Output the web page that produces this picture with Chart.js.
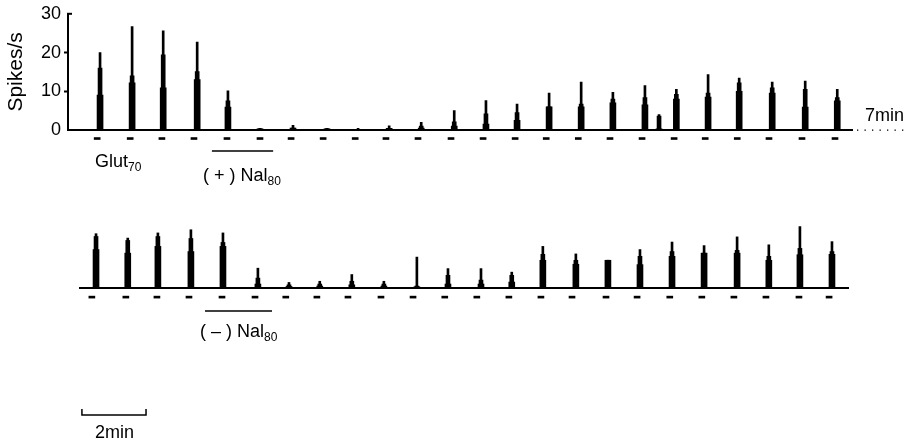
<!DOCTYPE html>
<html>
<head>
<meta charset="utf-8">
<script src="https://cdn.jsdelivr.net/npm/chart.js@4.4.0/dist/chart.umd.min.js"></script>
<style>
    body { margin: 0; background: #fff; }
    #fig { position: relative; width: 911px; height: 446px; font-family: "Liberation Sans", Arial, sans-serif; color: #000; }
    #fig canvas { position: absolute; left: 0; }
    .lbl { position: absolute; font-size: 18px; line-height: 18px; white-space: pre; }
    .lbl sub { font-size: 12px; vertical-align: baseline; position: relative; top: 4px; }
</style>
</head>
<body>
<div id="fig">
    <canvas id="topTrace" width="911" height="200" style="top:0"></canvas>
    <canvas id="bottomTrace" width="911" height="246" style="top:200px"></canvas>
    <div class="lbl" style="left:95px;top:152px">Glut<sub>70</sub></div>
    <div class="lbl" style="left:203px;top:166px">( + ) Nal<sub>80</sub></div>
    <div class="lbl" style="left:865px;top:106px">7min</div>
    <div class="lbl" style="left:200px;top:322px">( – ) Nal<sub>80</sub></div>
    <div class="lbl" style="left:95px;top:423px">2min</div>
</div>
<script>
'use strict';

const FONT = '"Liberation Sans", Arial, sans-serif';
const yTicks = [0, 10, 20, 30];

// upper record, (+) naloxone; times in min, rates in spikes/s
const topTimes = [0, 1.0, 1.97, 3.03, 3.99, 4.99, 6.02, 7.08, 8.05, 9.02, 10.02, 11.05, 12.04,
    13.01, 14.01, 15.01, 16.0, 17.0, 17.44, 17.98, 18.97, 19.94, 20.97, 22.0, 23.0];
const topBase = [9, 12.2, 10.9, 13.0, 5.9, 0.3, 0.5, 0.3, 0.2, 0.4, 0.5, 1.0, 1.5,
    2.5, 6.0, 6.0, 7.0, 6.5, 0.3, 8.0, 8.5, 10.0, 9.5, 5.9, 7.5];
const topUpper = [16, 14, 19.4, 15.1, 7.5, 0.3, 0.5, 0.3, 0.2, 0.4, 1.0, 2.1, 4.2,
    4.5, 6.0, 6.7, 8.0, 8.4, 3.6, 9.2, 9.5, 12.2, 10.9, 10.5, 8.4];
const topPeak = [20.0, 26.7, 25.6, 22.7, 10.1, 0.4, 1.2, 0.4, 0.4, 1.1, 2.0, 5.0, 7.6,
    6.7, 9.5, 12.4, 9.7, 11.5, 4.0, 10.5, 14.3, 13.4, 12.4, 12.6, 10.5];
const topGlutTimes = [-0.09, 0.94, 1.93, 2.93, 3.96, 4.99, 5.96, 6.96, 7.96, 8.92, 9.92, 10.95,
    11.95, 12.95, 13.92, 14.92, 15.91, 16.91, 17.91, 18.88, 19.88, 20.87, 21.9, 22.93];
const nalTop = [3.49, 5.40];

// lower record, (-) naloxone
const bottomTimes = [-0.12, 0.87, 1.81, 2.84, 3.84, 4.93, 5.90, 6.86, 7.86, 8.86, 9.89, 10.86,
    11.89, 12.85, 13.82, 14.85, 15.85, 16.85, 17.85, 18.85, 19.88, 20.87, 21.84, 22.84];
const bottomBase = [9.7, 8.8, 10.5, 9.2, 10.5, 1.0, 0.4, 0.5, 0.8, 0.5, 0.3, 1.0,
    1.0, 1.5, 7.0, 6.0, 7.0, 5.9, 8.0, 8.8, 8.8, 7.0, 8.4, 8.5];
const bottomUpper = [13.0, 12.0, 13.0, 12.5, 11.5, 2.5, 0.8, 1.0, 1.7, 1.0, 0.5, 3.2,
    2.0, 3.2, 8.5, 7.0, 7.0, 8.0, 9.2, 8.8, 9.5, 8.0, 10.0, 9.2];
const bottomPeak = [13.7, 12.6, 13.9, 14.7, 13.9, 5.0, 1.4, 1.7, 3.4, 1.7, 7.8, 4.9,
    4.9, 4.0, 10.5, 8.6, 7.0, 9.7, 11.6, 10.7, 12.9, 10.9, 15.5, 11.7];
const bottomGlutTimes = [-0.25, 0.81, 1.78, 2.78, 3.81, 4.84, 5.80, 6.77, 7.74, 8.77, 9.77, 10.76,
    11.76, 12.76, 13.76, 14.73, 15.79, 16.76, 17.78, 18.78, 19.78, 20.78, 21.81, 22.75];
const nalBottom = [3.28, 5.37];

const scaleBarStart = -0.56;
const scaleBarLength = 2; // min

function points(times, values) {
    return times.map((t, i) => ({x: t, y: values[i]}));
}

function bar(data, width) {
    return {
        type: 'bar', data: data, barThickness: width, grouped: false,
        backgroundColor: '#000', borderWidth: 0
    };
}

function traceDatasets(times, base, upper, peak, glut, glutY) {
    // glutamate pulses: short floating bars just under the baseline
    const pulses = bar(glut.map(t => ({x: t, y: [glutY - 0.25, glutY + 0.25]})), 6);
    pulses.clip = false;
    return [
        bar(points(times, peak), 2),
        bar(points(times, upper), 4),
        bar(points(times, base), 6),
        pulses
    ];
}

function hLine(ctx, x1, x2, y, w) {
    ctx.save();
    ctx.strokeStyle = '#000';
    ctx.lineWidth = w;
    ctx.beginPath();
    ctx.moveTo(x1, y);
    ctx.lineTo(x2, y);
    ctx.stroke();
    ctx.restore();
}

const topExtras = {
    id: 'topExtras',
    afterDraw(chart) {
        const {ctx, chartArea, scales} = chart;
        // dotted continuation of baseline
        ctx.fillStyle = '#000';
        for (let x = chartArea.right + 5; x < 908; x += 7.5) {
            ctx.fillRect(x, chartArea.bottom - 0.5, 1.3, 1.3);
        }
        // naloxone application bar
        hLine(ctx, scales.x.getPixelForValue(nalTop[0]), scales.x.getPixelForValue(nalTop[1]),
            chartArea.bottom + 21, 1.5);
        // small bracket at top of axis
        const y30 = scales.y.getPixelForValue(30);
        hLine(ctx, chartArea.left - 1, chartArea.left + 4, y30, 2);
    }
};

const bottomExtras = {
    id: 'bottomExtras',
    afterDraw(chart) {
        const {ctx, chartArea, scales} = chart;
        hLine(ctx, scales.x.getPixelForValue(nalBottom[0]), scales.x.getPixelForValue(nalBottom[1]),
            chartArea.bottom + 23, 1.5);
        const x1 = scales.x.getPixelForValue(scaleBarStart);
        const x2 = scales.x.getPixelForValue(scaleBarStart + scaleBarLength);
        const y = chartArea.bottom + 127;
        ctx.save();
        ctx.strokeStyle = '#000';
        ctx.lineWidth = 1.5;
        ctx.beginPath();
        ctx.moveTo(x1, y - 6);
        ctx.lineTo(x1, y);
        ctx.lineTo(x2, y);
        ctx.lineTo(x2, y - 6);
        ctx.stroke();
        ctx.restore();
    }
};

function baseX(min, max) {
    return {
        type: 'linear', min: min, max: max, offset: false,
        grid: {display: false, drawTicks: false},
        ticks: {display: false},
        border: {display: true, color: '#000', width: 2},
        afterFit: s => { s.height = 0; }
    };
}

const common = {
    responsive: false,
    animation: false,
    devicePixelRatio: 1,
    plugins: {legend: {display: false}, tooltip: {enabled: false}}
};

new Chart(document.getElementById('topTrace'), {
    type: 'bar',
    data: {datasets: traceDatasets(topTimes, topBase, topUpper, topPeak, topGlutTimes, -2.2)},
    options: Object.assign({}, common, {
        layout: {padding: {left: 0, right: 59, top: 11, bottom: 70}},
        scales: {
            x: baseX(-1.0, 23.46),
            y: {
                min: 0, max: 30,
                afterBuildTicks: s => { s.ticks = yTicks.map(v => ({value: v})); },
                ticks: {color: '#000', font: {family: FONT, size: 18}, padding: 3},
                grid: {
                    drawOnChartArea: false, tickLength: 4, tickWidth: 2,
                    tickColor: c => (c.tick && (c.tick.value === 10 || c.tick.value === 20)) ? '#000' : 'rgba(0,0,0,0)'
                },
                border: {display: true, color: '#000', width: 2},
                title: {display: true, text: 'Spikes/s', color: '#000', font: {family: FONT, size: 21}, padding: {top: 4, bottom: 0}},
                afterFit: s => { s.width = 68; }
            }
        }
    }),
    plugins: [topExtras]
});

new Chart(document.getElementById('bottomTrace'), {
    type: 'bar',
    data: {datasets: traceDatasets(bottomTimes, bottomBase, bottomUpper, bottomPeak, bottomGlutTimes, -2.3)},
    options: Object.assign({}, common, {
        layout: {padding: {left: 80, right: 63, top: 25, bottom: 158}},
        scales: {
            x: baseX(-0.62, 23.34),
            y: {display: false, min: 0, max: 15.9}
        }
    }),
    plugins: [bottomExtras]
});
</script>
</body>
</html>
